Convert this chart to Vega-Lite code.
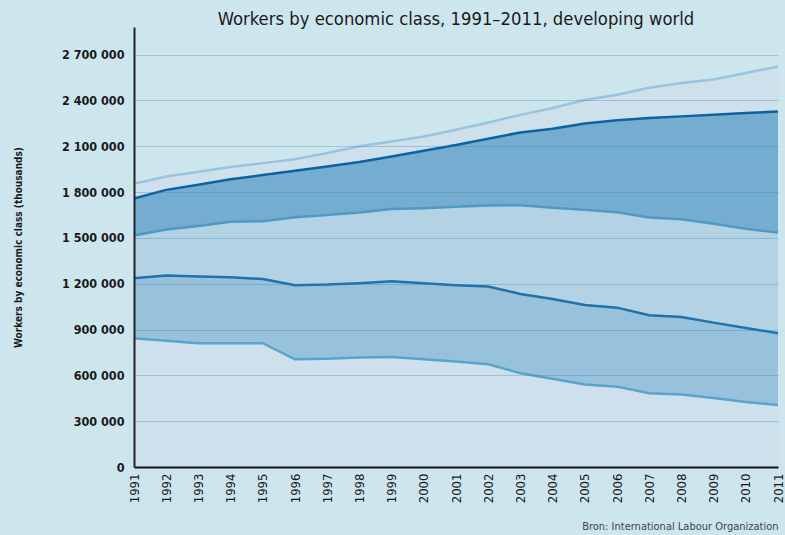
{
  "$schema": "https://vega.github.io/schema/vega-lite/v6.json",
  "width": 644,
  "height": 440,
  "autosize": {"type": "none"},
  "padding": {"left": 134, "top": 27, "right": 7, "bottom": 68},
  "background": "#cde6ee",
  "title": {
    "text": "Workers by economic class, 1991–2011, developing world",
    "font": "DejaVu Sans Condensed, sans-serif",
    "fontSize": 18.3,
    "fontWeight": "normal",
    "color": "#1a1a1a",
    "anchor": "middle",
    "offset": -2
  },
  "config": {
    "view": {"stroke": null},
    "locale": {"number": {"decimal": ".", "thousands": " ", "grouping": [3], "currency": ["", ""]}},
    "axis": {
      "labelFont": "DejaVu Sans Condensed, sans-serif",
      "titleFont": "DejaVu Sans Condensed, sans-serif",
      "labelColor": "#1a1a1a",
      "titleColor": "#1a1a1a"
    }
  },
  "data": {
    "values": [
      {"year": 1991, "l1": 843000, "l2": 1236000, "l3": 1515000, "l4": 1757000, "l5": 1854000},
      {"year": 1992, "l1": 827000, "l2": 1253000, "l3": 1554000, "l4": 1814000, "l5": 1902000},
      {"year": 1993, "l1": 810000, "l2": 1247000, "l3": 1578000, "l4": 1847000, "l5": 1932000},
      {"year": 1994, "l1": 810000, "l2": 1242000, "l3": 1605000, "l4": 1884000, "l5": 1963000},
      {"year": 1995, "l1": 810000, "l2": 1230000, "l3": 1609000, "l4": 1911000, "l5": 1989000},
      {"year": 1996, "l1": 705000, "l2": 1190000, "l3": 1635000, "l4": 1939000, "l5": 2015000},
      {"year": 1997, "l1": 709000, "l2": 1194000, "l3": 1650000, "l4": 1967000, "l5": 2055000},
      {"year": 1998, "l1": 716000, "l2": 1203000, "l3": 1666000, "l4": 1996000, "l5": 2100000},
      {"year": 1999, "l1": 720000, "l2": 1216000, "l3": 1688000, "l4": 2033000, "l5": 2131000},
      {"year": 2000, "l1": 705000, "l2": 1203000, "l3": 1694000, "l4": 2070000, "l5": 2163000},
      {"year": 2001, "l1": 690000, "l2": 1190000, "l3": 1703000, "l4": 2107000, "l5": 2207000},
      {"year": 2002, "l1": 673000, "l2": 1181000, "l3": 1712000, "l4": 2148000, "l5": 2255000},
      {"year": 2003, "l1": 614000, "l2": 1133000, "l3": 1714000, "l4": 2190000, "l5": 2305000},
      {"year": 2004, "l1": 578000, "l2": 1100000, "l3": 1697000, "l4": 2214000, "l5": 2350000},
      {"year": 2005, "l1": 540000, "l2": 1061000, "l3": 1683000, "l4": 2249000, "l5": 2402000},
      {"year": 2006, "l1": 526000, "l2": 1043000, "l3": 1668000, "l4": 2269000, "l5": 2437000},
      {"year": 2007, "l1": 483000, "l2": 993000, "l3": 1633000, "l4": 2284000, "l5": 2482000},
      {"year": 2008, "l1": 475000, "l2": 982000, "l3": 1622000, "l4": 2295000, "l5": 2513000},
      {"year": 2009, "l1": 452000, "l2": 945000, "l3": 1592000, "l4": 2306000, "l5": 2537000},
      {"year": 2010, "l1": 426000, "l2": 910000, "l3": 1559000, "l4": 2317000, "l5": 2579000},
      {"year": 2011, "l1": 406000, "l2": 876000, "l3": 1535000, "l4": 2327000, "l5": 2622000}
    ]
  },
  "encoding": {
    "x": {
      "field": "year",
      "type": "quantitative",
      "scale": {"domain": [1991, 2011], "nice": false, "zero": false},
      "axis": {
        "values": [1991,1992,1993,1994,1995,1996,1997,1998,1999,2000,2001,2002,2003,2004,2005,2006,2007,2008,2009,2010,2011],
        "format": "d",
        "labelAngle": 270,
        "labelFontSize": 13,
        "labelPadding": 6,
        "ticks": false,
        "grid": false,
        "domainColor": "#111111",
        "domainWidth": 2,
        "title": "Bron: International Labour Organization",
        "titleAnchor": "end",
        "titleFontSize": 11,
        "titleFontWeight": "normal",
        "titleColor": "#444444",
        "titlePadding": 18,
        "zindex": 1
      }
    }
  },
  "layer": [
    {
      "mark": {"type": "area", "color": "#cde0ec"},
      "encoding": {
        "y": {
          "field": "l1",
          "type": "quantitative",
          "scale": {"domain": [0, 2880000], "nice": false},
          "axis": {
            "values": [0,300000,600000,900000,1200000,1500000,1800000,2100000,2400000,2700000],
            "format": ",d",
            "labelFontSize": 12.5,
            "labelFontWeight": "bold",
            "labelPadding": 10,
            "ticks": false,
            "grid": true,
            "gridColor": "#2f7fb0",
            "gridOpacity": 0.3,
            "gridWidth": 1.2,
            "domainColor": "#222222",
            "domainWidth": 2,
            "title": "Workers by economic class (thousands)",
            "titleFontSize": 10,
            "titleFontWeight": "bold",
            "titlePadding": 38,
            "zindex": 1
          }
        }
      }
    },
    {
      "mark": {"type": "area", "color": "#98c1dc"},
      "encoding": {"y": {"field": "l2", "type": "quantitative"}, "y2": {"field": "l1"}}
    },
    {
      "mark": {"type": "area", "color": "#b3d3e5"},
      "encoding": {"y": {"field": "l3", "type": "quantitative"}, "y2": {"field": "l2"}}
    },
    {
      "mark": {"type": "area", "color": "#74adcf"},
      "encoding": {"y": {"field": "l4", "type": "quantitative"}, "y2": {"field": "l3"}}
    },
    {
      "mark": {"type": "area", "color": "#cde0ec"},
      "encoding": {"y": {"field": "l5", "type": "quantitative"}, "y2": {"field": "l4"}}
    },
    {
      "mark": {"type": "line", "color": "#5ba3cf", "strokeWidth": 2.5},
      "encoding": {"y": {"field": "l1", "type": "quantitative"}}
    },
    {
      "mark": {"type": "line", "color": "#1f72ad", "strokeWidth": 2.5},
      "encoding": {"y": {"field": "l2", "type": "quantitative"}}
    },
    {
      "mark": {"type": "line", "color": "#4f98c7", "strokeWidth": 2.5},
      "encoding": {"y": {"field": "l3", "type": "quantitative"}}
    },
    {
      "mark": {"type": "line", "color": "#0b63a3", "strokeWidth": 2.5},
      "encoding": {"y": {"field": "l4", "type": "quantitative"}}
    },
    {
      "mark": {"type": "line", "color": "#99c4df", "strokeWidth": 2.5},
      "encoding": {"y": {"field": "l5", "type": "quantitative"}}
    }
  ]
}
